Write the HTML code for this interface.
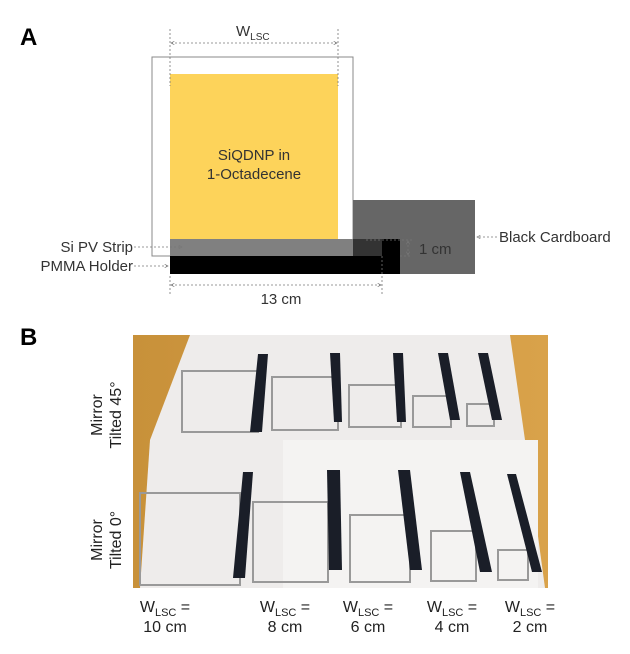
<!DOCTYPE html><html><head><style>
body{margin:0;background:#fff;width:630px;height:649px;overflow:hidden;font-family:"Liberation Sans",sans-serif}
</style></head><body>
<svg width="630" height="649" viewBox="0 0 630 649" xmlns="http://www.w3.org/2000/svg" font-family="Liberation Sans, sans-serif">
<defs>
<marker id="a" viewBox="0 0 6 6" refX="5" refY="3" markerWidth="5" markerHeight="5" orient="auto-start-reverse"><path d="M0,0.5L5,3L0,5.5" fill="none" stroke="#777" stroke-width="1"/></marker>
<linearGradient id="wood" x1="0" x2="1"><stop offset="0" stop-color="#c8913a"/><stop offset="1" stop-color="#d9a24a"/></linearGradient>
</defs>
<text x="20" y="45" font-size="24" font-weight="bold">A</text>
<rect x="152" y="57" width="201" height="199" fill="#fff" stroke="#888" stroke-width="1"/>
<rect x="170" y="74" width="168" height="165" fill="#fdd35a"/>
<text x="254" y="160" font-size="15" text-anchor="middle" fill="#333">SiQDNP in</text>
<text x="254" y="179" font-size="15" text-anchor="middle" fill="#333">1-Octadecene</text>
<rect x="353" y="200" width="122" height="74" fill="#666"/>
<rect x="170" y="239" width="212" height="17" fill="#808080"/>
<rect x="353" y="239" width="29" height="17" fill="#333"/>
<rect x="382" y="239" width="18" height="17" fill="#000"/>
<rect x="170" y="256" width="230" height="18" fill="#000"/>
<g stroke="#777" stroke-width="0.8" stroke-dasharray="2,2" fill="none">
<line x1="170" y1="29" x2="170" y2="86"/><line x1="338" y1="29" x2="338" y2="86"/>
<line x1="171" y1="43" x2="337" y2="43" marker-start="url(#a)" marker-end="url(#a)"/>
<line x1="170" y1="276" x2="170" y2="296"/><line x1="382" y1="256" x2="382" y2="296"/>
<line x1="171" y1="285" x2="381" y2="285" marker-start="url(#a)" marker-end="url(#a)"/>
<line x1="366" y1="240" x2="412" y2="240"/><line x1="400" y1="256" x2="412" y2="256"/>
<line x1="408" y1="241" x2="408" y2="255" marker-start="url(#a)" marker-end="url(#a)"/>
<line x1="134" y1="247" x2="182" y2="247" marker-end="url(#a)"/>
<line x1="134" y1="266" x2="168" y2="266" marker-end="url(#a)"/>
<line x1="497" y1="237" x2="477" y2="237" marker-end="url(#a)"/>
</g>
<text x="236" y="36" font-size="15" fill="#333">W<tspan font-size="10" dy="4">LSC</tspan></text>
<text x="281" y="304" font-size="15" text-anchor="middle" fill="#333">13 cm</text>
<text x="419" y="254" font-size="15" fill="#333">1 cm</text>
<text x="133" y="252" font-size="15" text-anchor="end" fill="#333">Si PV Strip</text>
<text x="133" y="271" font-size="15" text-anchor="end" fill="#333">PMMA Holder</text>
<text x="499" y="242" font-size="15" fill="#333">Black Cardboard</text>
<text x="20" y="345" font-size="24" font-weight="bold">B</text>
<g font-size="16" fill="#222">
<text transform="translate(102,415) rotate(-90)" text-anchor="middle">Mirror</text>
<text transform="translate(121,415) rotate(-90)" text-anchor="middle">Tilted 45°</text>
<text transform="translate(102,540) rotate(-90)" text-anchor="middle">Mirror</text>
<text transform="translate(121,540) rotate(-90)" text-anchor="middle">Tilted 0°</text>
</g>
<rect x="133" y="335" width="415" height="253" fill="url(#wood)"/>
<polygon points="190,335 510,335 525,440 545,588 140,588 150,440" fill="#eeeceb"/>
<rect x="283" y="440" width="255" height="148" fill="#f4f3f2"/>
<g fill="none" stroke="#999" stroke-width="2">
<rect x="182" y="371" width="76" height="61"/><rect x="272" y="377" width="66" height="53"/>
<rect x="349" y="385" width="52" height="42"/><rect x="413" y="396" width="38" height="31"/>
<rect x="467" y="404" width="27" height="22"/>
<rect x="140" y="493" width="100" height="92"/><rect x="253" y="502" width="75" height="80"/>
<rect x="350" y="515" width="60" height="67"/><rect x="431" y="531" width="45" height="50"/>
<rect x="498" y="550" width="30" height="30"/>
</g>
<g fill="#1a1e28">
<polygon points="258,354 268,354 262,432 250,432"/><polygon points="330,353 340,353 342,422 334,422"/>
<polygon points="393,353 403,353 406,422 397,422"/><polygon points="438,353 448,353 460,420 450,420"/>
<polygon points="478,353 488,353 502,420 492,420"/>
<polygon points="243,472 253,472 245,578 233,578"/><polygon points="327,470 340,470 342,570 329,570"/>
<polygon points="398,470 410,470 422,570 410,570"/><polygon points="460,472 470,472 492,572 480,572"/>
<polygon points="507,474 516,474 542,572 532,572"/>
</g>
<g font-size="16" fill="#222" text-anchor="middle">
<text x="165" y="612">W<tspan font-size="11" dy="4">LSC</tspan><tspan dy="-4"> =</tspan></text><text x="165" y="632">10 cm</text>
<text x="285" y="612">W<tspan font-size="11" dy="4">LSC</tspan><tspan dy="-4"> =</tspan></text><text x="285" y="632">8 cm</text>
<text x="368" y="612">W<tspan font-size="11" dy="4">LSC</tspan><tspan dy="-4"> =</tspan></text><text x="368" y="632">6 cm</text>
<text x="452" y="612">W<tspan font-size="11" dy="4">LSC</tspan><tspan dy="-4"> =</tspan></text><text x="452" y="632">4 cm</text>
<text x="530" y="612">W<tspan font-size="11" dy="4">LSC</tspan><tspan dy="-4"> =</tspan></text><text x="530" y="632">2 cm</text>
</g>
</svg>
</body></html>
